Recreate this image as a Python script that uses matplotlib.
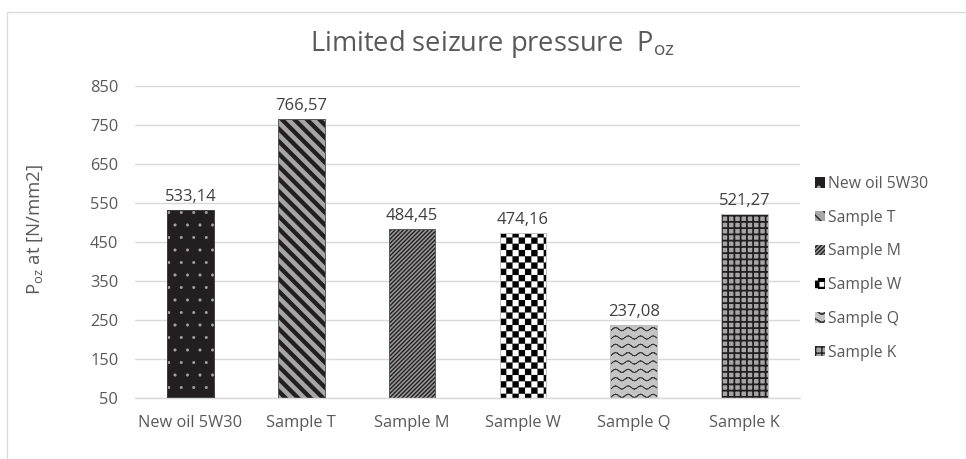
import warnings
import numpy as np
import matplotlib
matplotlib.use("Agg")
import matplotlib.pyplot as plt
import matplotlib.hatch as mhatch
from matplotlib.path import Path
from matplotlib.patches import Rectangle
from matplotlib.backend_bases import GraphicsContextBase

warnings.filterwarnings("ignore")

# data
samples = ["New oil 5W30", "Sample T", "Sample M", "Sample W", "Sample Q", "Sample K"]
p_oz = [533.14, 766.57, 484.45, 474.16, 237.08, 521.27]
y_ticks = [50, 150, 250, 350, 450, 550, 650, 750, 850]

# look of each bar: face, pattern colour, hatch, hatch linewidth, outline
faces = ["#231f20", "#a6a6a6", "#9a9a9a", "#ffffff", "#c4c4c4", "#a6a6a6"]
hcolors = ["#a6a6a6", "#231f20", "#231f20", "#000000", "#3a3a3a", "#231f20"]
hatches = [".", "\\\\", "//////", "c", "w", "++"]
hlws = [0.3, 3.1, 1.0, 0.1, 0.7, 1.3]
outlines = ["#404040", "#595959", "#595959", "#bfbfbf", "#bfbfbf", "#bfbfbf"]

HATCH_DENSITY = 8  # excel 8px patterns, roughly 12 px on this picture


def _hatch_path(self, density=HATCH_DENSITY):
    if self.get_hatch() is None:
        return None
    return Path.hatch(self.get_hatch(), HATCH_DENSITY)


GraphicsContextBase.get_hatch_path = _hatch_path


class CheckerHatch(mhatch.HatchPatternBase):
    # filled squares, two per cell -> checkerboard
    def __init__(self, hatch, density):
        self.n = hatch.count("c") * density
        self.num_vertices = self.n * self.n * 2 * 5

    def set_vertices_and_codes(self, vertices, codes):
        n = self.n
        s = 1.0 / n
        h = s / 2
        sq = np.array([[0, 0], [h, 0], [h, h], [0, h], [0, 0]])
        parts = []
        for i in range(n):
            for j in range(n):
                parts.append(sq + [i * s, j * s])
                parts.append(sq + [i * s + h, j * s + h])
        vertices[:] = np.concatenate(parts)
        codes[:] = np.tile([Path.MOVETO, Path.LINETO, Path.LINETO,
                            Path.LINETO, Path.CLOSEPOLY], n * n * 2)


class WaveHatch(mhatch.HatchPatternBase):
    # horizontal wavy lines, drawn as short separate segments
    def __init__(self, hatch, density):
        k = hatch.count("w")
        self.rows = k * density * 3 // 2
        self.periods = k * density
        self.steps = 8
        self.num_vertices = self.rows * self.periods * self.steps * 2

    def set_vertices_and_codes(self, vertices, codes):
        nseg = self.periods * self.steps
        xs = np.linspace(0, 1, nseg + 1)
        amp = 1.6 / 100
        parts = []
        for r in range(self.rows):
            y0 = (r + 0.5) / self.rows
            ys = y0 + amp * np.sin(2 * np.pi * self.periods * xs)
            for k in range(nseg):
                parts.append([[xs[k], ys[k]], [xs[k + 1], ys[k + 1]]])
        vertices[:] = np.array(parts).reshape(-1, 2)
        codes[:] = np.tile([Path.MOVETO, Path.LINETO], nseg * self.rows)


mhatch._hatch_types.extend([CheckerHatch, WaveHatch])

plt.rcParams["font.family"] = ["Open Sans", "DejaVu Sans"]
txt = "#595959"

fig = plt.figure(figsize=(9.66, 4.59), dpi=100)
ax = fig.add_axes([135 / 966, 1 - 398 / 459, 665 / 966, 312 / 459])

x = np.arange(len(samples))
width = 0.42
handles = []
for i in range(len(samples)):
    with plt.rc_context({"hatch.linewidth": hlws[i]}):
        bc = ax.bar(x[i], p_oz[i], width, color=faces[i], edgecolor=hcolors[i],
                    linewidth=0, hatch=hatches[i], label=samples[i], zorder=2)
    b = bc[0]
    if hasattr(b, "set_hatch_linewidth"):
        b.set_hatch_linewidth(hlws[i])

    def _draw(renderer, _orig=b.draw, _lw=hlws[i]):
        with plt.rc_context({"hatch.linewidth": _lw}):
            _orig(renderer)
    b.draw = _draw
    handles.append(bc)
    ax.bar_label(bc, labels=[f"{p_oz[i]:.2f}".replace(".", ",")], padding=3.5,
                 fontsize=12, color="#404040")

ax.bar(x, p_oz, width, fill=False, edgecolor=outlines, linewidth=0.7, zorder=3)

ax.set_ylim(y_ticks[0], y_ticks[-1])
ax.set_xlim(-0.5, len(samples) - 0.5)
ax.set_yticks(y_ticks)
ax.set_xticks(x)
ax.set_xticklabels(samples)
ax.tick_params(length=0, labelsize=11.8, labelcolor=txt)
ax.tick_params(axis="y", pad=12)
ax.tick_params(axis="x", pad=12.5)
ax.yaxis.grid(True, color="#d9d9d9", linewidth=1.0)
ax.set_axisbelow(True)
for s in ["top", "right", "left"]:
    ax.spines[s].set_visible(False)
ax.spines["bottom"].set_color("#d9d9d9")
ax.spines["bottom"].set_linewidth(1.0)

fig.text(492 / 966, 1 - 44 / 459, r"Limited seizure pressure  $\mathregular{P_{oz}}$",
         ha="center", va="center", fontsize=19.6, color=txt)
fig.text(35 / 966, 1 - 229 / 459, r"$\mathregular{P_{oz}}$ at [N/mm2]",
         ha="center", va="center", rotation=90, fontsize=13.4, color=txt)

fig.legend(handles=handles, labels=samples, loc="upper left",
           bbox_to_anchor=(815 / 966, 1 - 176 / 459), frameon=False,
           fontsize=11.3, labelcolor=txt, handlelength=0.65, handleheight=0.65,
           handletextpad=0.15, labelspacing=1.13, borderpad=0, borderaxespad=0)

# chart frame
fig.patches.append(Rectangle((7 / 966, -0.1), 1.2, 1 - 12 / 459 + 0.1,
                             transform=fig.transFigure, fill=False,
                             edgecolor="#d9d9d9", linewidth=0.9))

fig.savefig("out.png", dpi=100, facecolor="white")
